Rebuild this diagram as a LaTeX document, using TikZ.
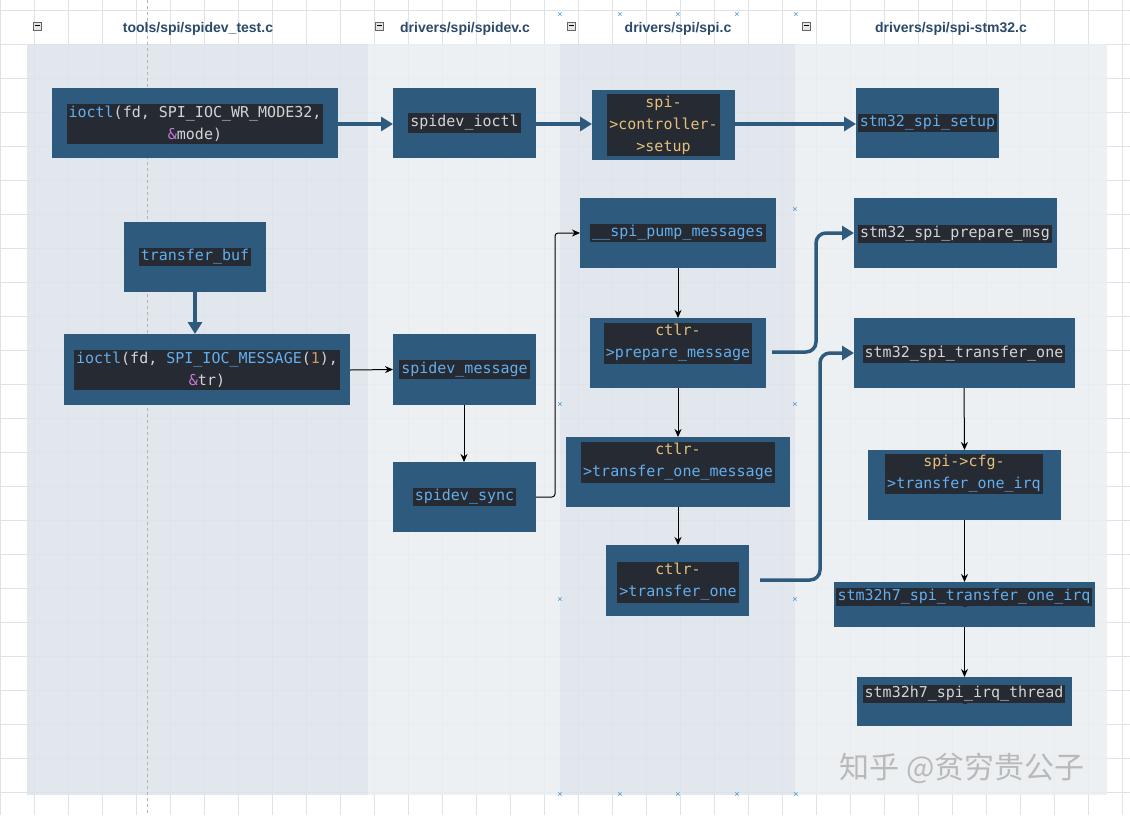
\documentclass[tikz,border=0pt]{standalone}
\usepackage{fontspec}
\setmainfont{Liberation Sans}
\setmonofont{DejaVu Sans Mono}
\newfontfamily\cjk{Noto Sans CJK SC}
\usetikzlibrary{arrows.meta}
\definecolor{boxblue}{HTML}{2E5A7E}
\definecolor{inner}{HTML}{262A33}
\definecolor{tg}{HTML}{D4D4D4}
\definecolor{tb}{HTML}{61AFEF}
\definecolor{ty}{HTML}{E5C07B}
\definecolor{tp}{HTML}{C678DD}
\definecolor{to}{HTML}{D19A66}
\definecolor{hdr}{HTML}{2B4A6A}
\definecolor{laneA}{HTML}{DCE3EA}
\definecolor{laneB}{HTML}{E9EEF2}
\definecolor{gridc}{HTML}{DDE3E9}
\definecolor{mk}{HTML}{3A8FD0}
\tikzset{x=1pt,y=-1pt,
 box/.style={fill=boxblue,draw=none,inner sep=0pt},
 lbl/.style={fill=inner,text=tg,font=\ttfamily\fontsize{15}{22}\selectfont,align=center,inner sep=2pt},
 thk/.style={draw=boxblue,line width=3.5pt,-{Triangle[length=12pt,width=14pt]},rounded corners=10pt},
 thn/.style={draw=black,line width=1pt,-{Stealth[length=8pt,width=7pt]}},
 hd/.style={font=\bfseries\fontsize{14}{16}\selectfont,text=hdr},
 xm/.style={text=mk,font=\fontsize{9}{9}\selectfont,inner sep=0pt},
 ic/.style={draw=gray!80!black,fill=gray!20,minimum size=8pt,inner sep=0pt}}
\newcommand{\bx}[5]{\path[box] (#2,#3) rectangle (#4,#5); \node[lbl] (#1) at ({(#2+#4)/2},{(#3+#5)/2}) {};
 \coordinate (#1-w) at (#2,{(#3+#5)/2}); \coordinate (#1-e) at (#4,{(#3+#5)/2});
 \coordinate (#1-n) at ({(#2+#4)/2},#3); \coordinate (#1-s) at ({(#2+#4)/2},#5);}
\begin{document}
\begin{tikzpicture}
\useasboundingbox (0,0) rectangle (1130,815);
\fill[white] (0,0) rectangle (1130,815);
\foreach \g in {0,34,...,1130} \draw[gridc,line width=0.5pt] (\g,0) -- (\g,815);
\foreach \g in {10,44,...,815} \draw[gridc,line width=0.5pt] (0,\g) -- (1130,\g);
\fill[laneA,opacity=0.85] (27,44) rectangle (368,795);
\fill[laneB,opacity=0.85] (368,44) rectangle (560,795);
\fill[laneA,opacity=0.85] (560,44) rectangle (795,795);
\fill[laneB,opacity=0.85] (795,44) rectangle (1107,795);
\draw[gray!60,dashed,line width=0.4pt] (147,0) -- (147,815);
\node[hd] (h1) at (198,29) {tools/spi/spidev\_test.c};
\node[hd] (h2) at (465,29) {drivers/spi/spidev.c};
\node[hd] (h3) at (678,29) {drivers/spi/spi.c};
\node[hd] (h4) at (951,29) {drivers/spi/spi-stm32.c};
\foreach \p/\q in {37/i1,379/i2,571/i3,806/i4} \node[ic] (\q) at (\p,26) {\rule[2pt]{5pt}{0.8pt}};
\foreach \p/\q [count=\k] in {560/15,620/15,678/15,737/15,796/15,795/210,560/405,795/405,560/600,795/600,560/795,620/795,678/795,737/795,796/795} \node[xm] (x\k) at (\p,\q) {×};
% boxes
\path[box] (52,88) rectangle (338,158);
\node[lbl,align=center] (b1) at (195,124) {\textcolor{tb}{ioctl}(fd, SPI\_IOC\_WR\_MODE32,\\\textcolor{tp}{\&}mode)};
\bx{b2}{393}{88}{536}{158} \node[lbl] at (b2) {spidev\_ioctl};
\bx{b3}{592}{90}{735}{160} \node[lbl] at (b3) {\textcolor{ty}{spi-}\\\textcolor{ty}{>controller-}\\\textcolor{ty}{>setup}};
\bx{b4}{856}{88}{999}{158} \node[lbl,text=tb] at (b4) {stm32\_spi\_setup};
\bx{b5}{124}{222}{266}{292} \node[lbl,text=tb] at (b5) {transfer\_buf};
\path[box] (64,334) rectangle (350,405);
\node[lbl] (b6) at (207,370) {\textcolor{tb}{ioctl}(fd, \textcolor{tb}{SPI\_IOC\_MESSAGE}(\textcolor{to}{1}),\\\textcolor{tp}{\&}tr)};
\coordinate (b6-e) at (350,370); \coordinate (b6-n) at (195,334);
\bx{b7}{393}{334}{536}{405} \node[lbl,text=tb] at (b7) {spidev\_message};
\bx{b8}{393}{462}{536}{532} \node[lbl,text=tb] at (b8) {spidev\_sync};
\bx{b9}{580}{198}{776}{268} \node[lbl,text=tb] at (b9) {\_\_spi\_pump\_messages};
\bx{b10}{590}{318}{766}{388} \node[lbl] at (678,343) {\textcolor{ty}{ctlr-}\\\textcolor{tb}{>prepare\_message}};
\bx{b11}{566}{437}{790}{507} \node[lbl] at (678,462) {\textcolor{ty}{ctlr-}\\\textcolor{tb}{>transfer\_one\_message}};
\bx{b12}{606}{545}{749}{616} \node[lbl] at (678,582) {\textcolor{ty}{ctlr-}\\\textcolor{tb}{>transfer\_one}};
\bx{b13}{854}{198}{1057}{268} \node[lbl] at (955,234) {stm32\_spi\_prepare\_msg};
\bx{b14}{854}{318}{1075}{388} \node[lbl] at (964,354) {stm32\_spi\_transfer\_one};
\bx{b15}{868}{450}{1061}{520} \node[lbl] at (964,474) {\textcolor{ty}{spi->cfg-}\\\textcolor{tb}{>transfer\_one\_irq}};
\bx{b16}{834}{582}{1095}{627} \node[lbl,text=tb] at (964,597) {stm32h7\_spi\_transfer\_one\_irq};
\bx{b17}{857}{677}{1072}{726} \node[lbl] at (964,694) {stm32h7\_spi\_irq\_thread};
% connectors
\draw[thk] (338,124) -- (393,124);
\draw[thk] (536,124) -- (592,124);
\draw[thk] (735,124) -- (856,124);
\draw[thk] (b5-s) -- (b6-n);
\draw[thk] (772,352) -| (816,233) -- (b13-w);
\draw[thk] (760,580) -| (820,353) -- (b14-w);
\draw[thn] (b6-e) -- (b7-w);
\draw[thn] (464,405) -- (464,462);
\draw[thn,rounded corners=3pt] (b8-e) -| (555,233) -- (b9-w);
\draw[thn] (678,268) -- (b10-n);
\draw[thn] (b10-s) -- (b11-n);
\draw[thn] (b11-s) -- (678,545);
\draw[thn] (964,388) -- (b15-n);
\draw[thn] (b15-s) -- (b16-n);
\draw[thn] (b16-s) -- (b17-n);
\node[font=\cjk\fontsize{30}{30}\selectfont,text=gray!55] (wm) at (962,768) {知乎 @贫穷贵公子};
\end{tikzpicture}
\end{document}
